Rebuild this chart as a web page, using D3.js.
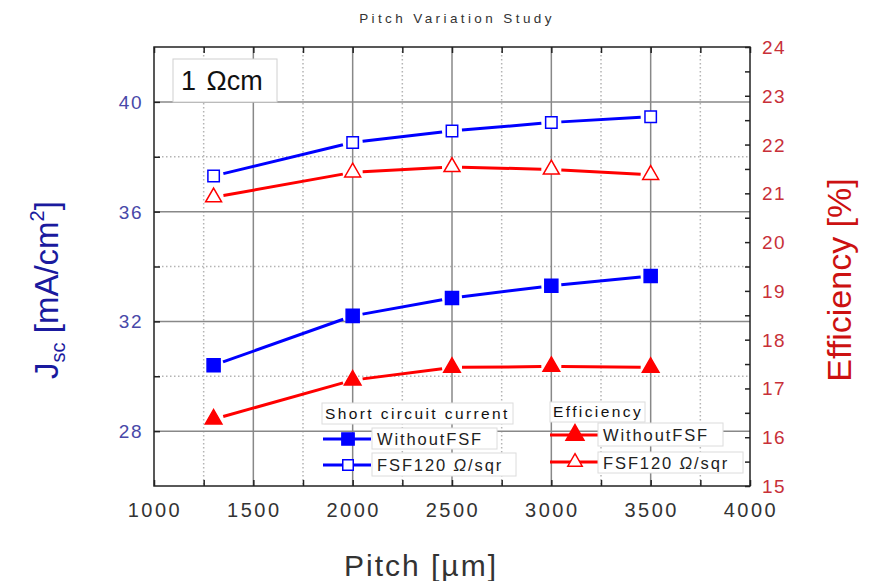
<!DOCTYPE html>
<html><head><meta charset="utf-8">
<script src="https://cdn.jsdelivr.net/npm/d3@7/dist/d3.min.js"></script>
<style>body{margin:0;background:#fff;}svg{display:block;font-family:"Liberation Sans",Arial,sans-serif;}</style>
</head><body>
<svg id="c" width="869" height="581"></svg>
<script>
const pitch = [1300, 2000, 2500, 3000, 3500];
const jscWithout = [30.4, 32.2, 32.85, 33.3, 33.65];
const jscFSF = [37.3, 38.52, 38.94, 39.25, 39.46];
const effWithout = [16.37, 17.17, 17.43, 17.45, 17.43];
const effFSF = [20.92, 21.43, 21.54, 21.49, 21.38];
const xTicks = [1000, 1500, 2000, 2500, 3000, 3500, 4000];
const xMinor = [1250, 1750, 2250, 2750, 3250, 3750];
const leftTicks = [28, 32, 36, 40];
const leftMinor = [30, 34, 38];
const rightTicks = [15, 16, 17, 18, 19, 20, 21, 22, 23, 24];
const rightMinor = [15.5, 16.5, 17.5, 18.5, 19.5, 20.5, 21.5, 22.5, 23.5];
const title = "Pitch Variation Study";
const xLabel = "Pitch [\u00b5m]";
const rightLabel = "Efficiency [%]";
const insetText = "1 \u03a9cm";
const legendJscTitle = "Short circuit current";
const legendEffTitle = "Efficiency";
const seriesNames = ["WithoutFSF", "FSF120 "];

const svg = d3.select("#c");
const L = 154, R = 750, T = 47, B = 486;
const x = d3.scaleLinear().domain([1000, 4000]).range([L, R]);
const yL = d3.scaleLinear().domain([26, 42]).range([B, T]);
const yR = d3.scaleLinear().domain([15, 24]).range([B, T]);
const BLUE = "#0000ff", RED = "#ff0000";

// grid
const g = svg.append("g");
g.selectAll(".vmin").data(xMinor).join("line").attr("x1", d => x(d)).attr("x2", d => x(d)).attr("y1", T).attr("y2", B)
  .attr("stroke", "#b4b4b4").attr("stroke-width", 1.5).attr("stroke-dasharray", "1.5,2.5");
g.selectAll(".hmin").data(leftMinor).join("line").attr("y1", d => yL(d)).attr("y2", d => yL(d)).attr("x1", L).attr("x2", R)
  .attr("stroke", "#b4b4b4").attr("stroke-width", 1.5).attr("stroke-dasharray", "1.5,2.5");
g.selectAll(".vmaj").data(xTicks.slice(1, -1)).join("line").attr("x1", d => x(d)).attr("x2", d => x(d)).attr("y1", T).attr("y2", B)
  .attr("stroke", "#888").attr("stroke-width", 1.5);
g.selectAll(".hmaj").data(leftTicks).join("line").attr("y1", d => yL(d)).attr("y2", d => yL(d)).attr("x1", L).attr("x2", R)
  .attr("stroke", "#888").attr("stroke-width", 1.5);

// axes with inward ticks
const ax = svg.append("g");
ax.append("g").attr("transform", `translate(0,${B})`)
  .call(d3.axisBottom(x).tickValues(xTicks.concat(xMinor)).tickSize(-6).tickFormat(""));
ax.append("g").attr("transform", `translate(0,${T})`)
  .call(d3.axisTop(x).tickValues(xTicks.concat(xMinor)).tickSize(-6).tickFormat(""));
ax.append("g").attr("transform", `translate(${L},0)`)
  .call(d3.axisLeft(yL).tickValues(leftTicks.concat(leftMinor)).tickSize(-6).tickFormat(""));
ax.append("g").attr("transform", `translate(${R},0)`)
  .call(d3.axisRight(yR).tickValues(rightTicks.concat(rightMinor)).tickSize(-5).tickFormat(""));
ax.selectAll("path.domain").remove();
ax.selectAll(".tick line").attr("stroke", "#222").attr("stroke-width", 1.5);
svg.append("rect").attr("x", L).attr("y", T).attr("width", R - L).attr("height", B - T)
  .attr("fill", "none").attr("stroke", "#222").attr("stroke-width", 1.5);

// tick labels
svg.append("g").selectAll("text").data(xTicks).join("text")
  .attr("x", d => x(d) + 1).attr("y", 517).attr("text-anchor", "middle")
  .attr("font-size", 20).attr("letter-spacing", 2.5).attr("fill", "#333").text(d => d);
svg.append("g").selectAll("text").data(leftTicks).join("text")
  .attr("x", 143).attr("y", d => yL(d) + 7).attr("text-anchor", "end")
  .attr("font-size", 19).attr("letter-spacing", 1.5).attr("fill", "#4848a8").text(d => d);
svg.append("g").selectAll("text").data(rightTicks).join("text")
  .attr("x", 762).attr("y", d => yR(d) + 7).attr("text-anchor", "start")
  .attr("font-size", 19).attr("letter-spacing", 1.5).attr("fill", "#c83038").text(d => d);

// axis titles
svg.append("text").attr("x", 457).attr("y", 23).attr("text-anchor", "middle").attr("font-size", 13.5)
  .attr("letter-spacing", 3.4).attr("fill", "#333").text(title);
svg.append("text").attr("x", 421).attr("y", 576).attr("text-anchor", "middle").attr("font-size", 30)
  .attr("letter-spacing", 2).attr("fill", "#333").text(xLabel);
const lt = svg.append("text").attr("transform", "translate(58,290) rotate(-90)").attr("text-anchor", "middle")
  .attr("font-size", 33).attr("fill", "#1a1a9e");
lt.append("tspan").text("J");
lt.append("tspan").attr("font-size", 20).attr("dy", 7).text("sc");
lt.append("tspan").attr("dy", -7).text(" [mA/cm");
lt.append("tspan").attr("font-size", 20).attr("dy", -14).text("2");
lt.append("tspan").attr("dy", 14).text("]");
svg.append("text").attr("transform", "translate(851,280) rotate(-90)").attr("text-anchor", "middle")
  .attr("font-size", 34).attr("fill", "#cc1111").text(rightLabel);

// inset box
svg.append("rect").attr("x", 173).attr("y", 59).attr("width", 104).attr("height", 43)
  .attr("fill", "#fff").attr("stroke", "#d0d0d0");
const it = svg.append("text").attr("x", 181).attr("y", 90).attr("font-size", 27).attr("fill", "#111");
it.append("tspan").attr("letter-spacing", 1.5).text(insetText.slice(0, 2));
it.append("tspan").attr("letter-spacing", 0).text(insetText.slice(2));

// series
function seg(xs, ys, yScale, color, gap) {
  const pts = xs.map((d, i) => [x(d), yScale(ys[i])]);
  const gg = svg.append("g");
  for (let i = 0; i < pts.length - 1; i++) {
    const [x1, y1] = pts[i], [x2, y2] = pts[i + 1];
    const len = Math.hypot(x2 - x1, y2 - y1), ux = (x2 - x1) / len, uy = (y2 - y1) / len;
    gg.append("line").attr("x1", x1 + ux * gap).attr("y1", y1 + uy * gap)
      .attr("x2", x2 - ux * gap).attr("y2", y2 - uy * gap)
      .attr("stroke", color).attr("stroke-width", 3);
  }
  return pts;
}
function markers(pts, type, size, color, filled) {
  svg.append("g").selectAll("path").data(pts).join("path")
    .attr("transform", d => `translate(${d[0]},${d[1]})`)
    .attr("d", d3.symbol().type(type).size(size)())
    .attr("fill", filled ? color : "#fff").attr("stroke", color).attr("stroke-width", 1.5);
}
const p1 = seg(pitch, jscWithout, yL, BLUE, 10);
const p2 = seg(pitch, jscFSF, yL, BLUE, 10);
const p3 = seg(pitch, effWithout, yR, RED, 10);
const p4 = seg(pitch, effFSF, yR, RED, 10);
markers(p1, d3.symbolSquare, 170, BLUE, true);
markers(p2, d3.symbolSquare, 130, BLUE, false);
markers(p3, d3.symbolTriangle, 120, RED, true);
markers(p4, d3.symbolTriangle, 110, RED, false);

// legend
function box(x0, y0, w, h) {
  svg.append("rect").attr("x", x0).attr("y", y0).attr("width", w).attr("height", h).attr("fill", "#fff").attr("stroke", "#dcdcdc");
}
function label(x0, y0, parts) {
  const t = svg.append("text").attr("x", x0).attr("y", y0).attr("font-size", 16.5).attr("letter-spacing", 1.9).attr("fill", "#222");
  t.append("tspan").text(parts[0]);
  if (parts.length > 1) {
    t.append("tspan").attr("font-style", "italic").text("\u03a9");
    t.append("tspan").text("/sqr");
  }
}
box(322, 403, 191, 21);
svg.append("text").attr("x", 325).attr("y", 419).attr("font-size", 15.5).attr("letter-spacing", 2.4).attr("fill", "#111").text(legendJscTitle);
box(550, 402, 95, 20);
svg.append("text").attr("x", 553).attr("y", 417).attr("font-size", 15.5).attr("letter-spacing", 2.4).attr("fill", "#111").text(legendEffTitle);

const legRows = [
  {lx: 323, ly: 439, color: BLUE, type: d3.symbolSquare, size: 150, filled: true, bx: 372, by: 428, bw: 125, bh: 21, name: [seriesNames[0]]},
  {lx: 323, ly: 465, color: BLUE, type: d3.symbolSquare, size: 110, filled: false, bx: 372, by: 453, bw: 144, bh: 23, name: [seriesNames[1], "sym"]},
  {lx: 550, ly: 435, color: RED, type: d3.symbolTriangle, size: 140, filled: true, bx: 598, by: 423, bw: 125, bh: 23, name: [seriesNames[0]]},
  {lx: 550, ly: 462, color: RED, type: d3.symbolTriangle, size: 90, filled: false, bx: 598, by: 452, bw: 145, bh: 21, name: [seriesNames[1], "sym"]}
];
legRows.forEach(r => {
  svg.append("line").attr("x1", r.lx).attr("x2", r.lx + 48).attr("y1", r.ly).attr("y2", r.ly).attr("stroke", r.color).attr("stroke-width", 3);
  svg.append("path").attr("transform", `translate(${r.lx + 25},${r.ly})`).attr("d", d3.symbol().type(r.type).size(r.size)())
    .attr("fill", r.filled ? r.color : "#fff").attr("stroke", r.color).attr("stroke-width", 1.5);
  box(r.bx, r.by, r.bw, r.bh);
  label(r.bx + 5, r.by + r.bh / 2 + 6, r.name);
});
</script>
</body></html>
